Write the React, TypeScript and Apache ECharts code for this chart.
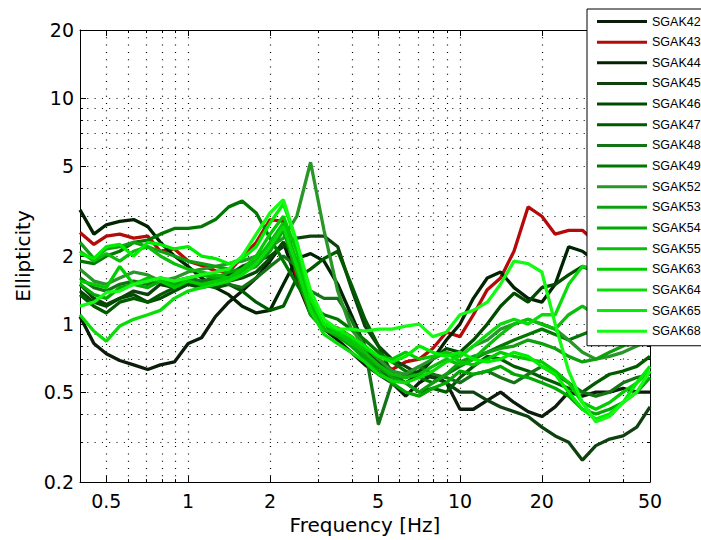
import React, { useEffect, useRef } from "react";
import * as echarts from "echarts";

// Frequency samples [Hz]
const frequencies = [
  0.4, 0.45, 0.5, 0.56, 0.63, 0.71, 0.79, 0.89, 1.0, 1.12,
  1.26, 1.41, 1.58, 1.78, 2.0, 2.24, 2.51, 2.82, 3.16, 3.55,
  3.98, 4.47, 5.01, 5.62, 6.31, 7.08, 7.94, 8.91, 10.0, 11.2,
  12.6, 14.1, 15.8, 17.8, 20.0, 22.4, 25.1, 28.2, 31.6, 35.5,
  39.8, 44.7, 50.0,
];

const seriesNames = [
  "SGAK42", "SGAK43", "SGAK44", "SGAK45", "SGAK46", "SGAK47", "SGAK48", "SGAK49",
  "SGAK52", "SGAK53", "SGAK54", "SGAK55", "SGAK63", "SGAK64", "SGAK65", "SGAK68",
];

const seriesColors = [
  "#0b1c0b", "#b40a0a", "#002300", "#0f410f", "#004b00", "#005a00", "#147314", "#007800",
  "#289628", "#0fa00f", "#00aa00", "#0abe0a", "#00cd00", "#0adc0a", "#00ee00", "#14fa14",
];

const sgak42 = [
  1.08, 0.82, 0.74, 0.69, 0.66, 0.63, 0.66, 0.68, 0.82, 0.87,
  1.08, 1.25, 1.4, 1.6, 1.9, 2.3, 1.55, 1.1, 0.95, 0.85,
  0.75, 0.66, 0.6, 0.55, 0.48, 0.55, 0.6, 0.55, 0.42, 0.42,
  0.46, 0.5, 0.45, 0.41, 0.39, 0.43, 0.5, 0.48, 0.5, 0.5,
  0.52, 0.5, 0.5,
];
const sgak43 = [
  2.54, 2.25, 2.45, 2.5, 2.4, 2.45, 2.1, 2.15, 1.9, 1.82,
  1.72, 1.7, 1.98, 2.3, 2.9, 2.85, 1.6, 1.12, 1.0, 0.96,
  0.88, 0.8, 0.7, 0.63, 0.68, 0.7, 0.78, 0.92, 0.88, 1.1,
  1.42, 1.6, 2.1, 3.3, 3.0, 2.5, 2.6, 2.6, 2.3, 2.1,
  1.9, 1.8, 1.7,
];
const sgak44 = [
  3.2, 2.5, 2.75, 2.85, 2.9, 2.7, 2.3, 2.0, 1.8, 1.6,
  1.45, 1.35, 1.2, 1.12, 1.15, 1.5, 1.95, 2.05, 1.9, 1.5,
  1.1, 0.8, 0.62, 0.58, 0.55, 0.6, 0.7, 0.85, 1.0, 1.3,
  1.6, 1.7, 1.45, 1.3, 1.25, 1.5, 2.2, 2.1, 1.9, 1.8,
  1.6, 1.4, 1.3,
];
const sgak45 = [
  1.5, 1.3, 1.22, 1.3, 1.4, 1.35, 1.5, 1.45, 1.55, 1.5,
  1.6, 1.65, 1.8, 1.9, 2.0, 2.2, 2.4, 2.45, 2.45, 2.2,
  1.45, 0.98, 0.8, 0.7, 0.65, 0.6, 0.58, 0.55, 0.5, 0.5,
  0.46, 0.43, 0.41, 0.39, 0.35, 0.32, 0.3, 0.25, 0.29, 0.31,
  0.32, 0.35, 0.43,
];
const sgak46 = [
  1.4, 1.25, 1.2, 1.3, 1.35, 1.25, 1.3, 1.4, 1.5, 1.45,
  1.5, 1.55, 1.6, 1.7, 1.95, 2.3, 1.9, 1.25, 1.0, 0.9,
  0.82, 0.75, 0.68, 0.6, 0.58, 0.62, 0.7, 0.78, 0.75, 0.85,
  1.0, 1.2, 1.37, 1.25, 1.45, 1.5, 1.65, 1.8, 1.7, 1.6,
  1.5, 1.3, 1.2,
];
const sgak47 = [
  1.35, 1.2, 1.12, 1.25, 1.3, 1.25, 1.35, 1.45, 1.55, 1.5,
  1.45, 1.5, 1.4, 1.25, 1.15, 1.2, 1.6, 1.75, 1.95, 2.1,
  1.5, 1.05, 0.8, 0.6, 0.55, 0.5, 0.52, 0.5, 0.58, 0.65,
  0.72, 0.7, 0.65, 0.62, 0.58, 0.55, 0.52, 0.5, 0.55, 0.6,
  0.62, 0.65, 0.72,
];
const sgak48 = [
  1.6, 1.45, 1.4, 1.5, 1.55, 1.5, 1.6, 1.55, 1.6, 1.55,
  1.6, 1.5, 1.45, 1.6, 1.8, 2.0, 1.8, 1.4, 1.3, 1.3,
  1.05, 0.78, 0.36, 0.55, 0.6, 0.65, 0.6, 0.58, 0.55, 0.6,
  0.62, 0.58, 0.55, 0.6, 0.65, 0.6, 0.55, 0.5, 0.48, 0.5,
  0.55, 0.58, 0.6,
];
const sgak49 = [
  1.9, 1.85, 2.0, 2.1, 2.3, 2.35, 2.5, 2.65, 2.65, 2.7,
  2.9, 3.3, 3.5, 3.1, 2.4, 1.9, 1.5, 1.2, 1.1, 1.05,
  0.95, 0.85, 0.75, 0.68, 0.62, 0.58, 0.55, 0.6, 0.65, 0.7,
  0.75, 0.8, 0.85, 0.9, 0.95, 0.9, 0.85, 0.9, 0.95, 1.0,
  1.05, 1.1, 1.0,
];
const sgak52 = [
  1.75, 1.55, 1.5, 1.6, 1.7, 1.65, 1.55, 1.6, 1.7, 1.75,
  1.8, 1.85, 1.9, 2.0, 2.2, 2.4, 3.0, 5.2, 2.6, 1.4,
  0.95, 0.8, 0.7, 0.62, 0.6, 0.65, 0.7, 0.75, 0.72, 0.8,
  0.85, 0.95, 1.0, 1.05, 1.0, 0.95, 0.85, 0.75, 0.7, 0.72,
  0.75, 0.8, 0.85,
];
const sgak53 = [
  2.3, 1.95, 2.15, 2.2, 2.3, 2.2, 2.1, 2.0, 1.9, 1.85,
  1.8, 1.75, 1.7, 1.8, 2.1, 2.6, 1.8, 1.15, 0.95, 0.9,
  0.8, 0.72, 0.65, 0.58, 0.55, 0.5, 0.55, 0.6, 0.68, 0.72,
  0.75, 0.78, 0.8, 0.85, 0.82, 0.78, 0.72, 0.68, 0.7, 0.75,
  0.8, 0.85, 0.9,
];
const sgak54 = [
  1.5, 1.35, 1.3, 1.45, 1.5, 1.45, 1.55, 1.5, 1.6, 1.65,
  1.6, 1.7, 1.75, 1.9, 2.2, 2.6, 1.7, 1.1, 0.95, 0.88,
  0.8, 0.7, 0.62, 0.55, 0.5, 0.48, 0.52, 0.55, 0.62, 0.6,
  0.62, 0.65, 0.6, 0.58, 0.55, 0.52, 0.48, 0.42, 0.4, 0.42,
  0.45, 0.5, 0.58,
];
const sgak55 = [
  2.1, 1.9, 2.05, 1.9, 2.1, 2.2, 2.0, 1.85, 1.75, 1.7,
  1.65, 1.6, 1.7, 1.9, 2.3, 2.8, 1.9, 1.2, 0.95, 0.9,
  0.82, 0.75, 0.66, 0.6, 0.58, 0.6, 0.65, 0.7, 0.66, 0.7,
  0.8, 0.9, 1.0, 1.05, 1.0, 0.95, 1.1, 1.2, 1.1, 1.0,
  0.98, 0.9, 0.88,
];
const sgak63 = [
  1.55, 1.5, 1.45, 1.8, 1.5, 1.6, 1.55, 1.45, 1.55, 1.5,
  1.55, 1.6, 1.75, 2.0, 2.5, 3.0, 2.1, 1.3, 1.0, 0.92,
  0.85, 0.78, 0.72, 0.7, 0.75, 0.7, 0.72, 0.75, 0.68, 0.66,
  0.7, 0.75, 0.72, 0.7, 0.68, 0.62, 0.55, 0.45, 0.42, 0.45,
  0.5, 0.55, 0.62,
];
const sgak64 = [
  1.1, 0.93, 0.84, 0.98, 1.05, 1.1, 1.15, 1.3, 1.4, 1.45,
  1.5, 1.55, 1.65, 1.85, 2.2, 2.7, 1.8, 1.15, 0.9, 0.82,
  0.75, 0.68, 0.6, 0.56, 0.55, 0.58, 0.62, 0.68, 0.72, 0.8,
  0.9, 1.0, 1.05, 1.0, 1.1, 1.1, 1.5, 1.8, 1.75, 1.6,
  1.4, 1.2, 1.0,
];
const sgak65 = [
  2.05, 1.95, 2.2, 2.25, 2.0, 2.3, 2.25, 2.15, 2.2, 2.0,
  1.95, 1.85, 1.95, 2.2, 2.8, 3.4, 2.3, 1.3, 1.0, 0.95,
  0.88, 0.8, 0.72, 0.68, 0.72, 0.8, 0.75, 0.72, 0.75, 0.7,
  0.68, 0.7, 0.75, 0.72, 0.65, 0.6, 0.5, 0.42, 0.38, 0.4,
  0.45, 0.55, 0.65,
];
const sgak68 = [
  1.2, 1.25, 1.38, 1.4, 1.5, 1.55, 1.6, 1.55, 1.6, 1.65,
  1.7, 1.75, 2.0, 2.5, 3.1, 3.55, 2.3, 1.4, 1.05, 0.95,
  0.95, 0.93, 0.95, 0.95, 0.98, 1.0, 0.88, 0.92, 1.1, 1.15,
  1.25, 1.5, 1.9, 1.85, 1.7, 1.0, 0.62, 0.45, 0.37, 0.39,
  0.45, 0.5, 0.62,
];

const seriesValues = [
  sgak42, sgak43, sgak44, sgak45, sgak46, sgak47, sgak48, sgak49,
  sgak52, sgak53, sgak54, sgak55, sgak63, sgak64, sgak65, sgak68,
];

// Axis ticks
const xTickLabels = [0.5, 1, 2, 5, 10, 20, 50];
const xGridValues = [0.5, 0.6, 0.7, 0.8, 0.9, 1, 2, 3, 4, 5, 6, 7, 8, 9, 10, 20, 30, 40];
const yTickLabels = [0.2, 0.5, 1, 2, 5, 10, 20];
const yGridValues = [0.3, 0.4, 0.5, 0.6, 0.7, 0.8, 0.9, 1, 2, 3, 4, 5, 6, 7, 8, 9, 10];
const xRange = [0.4, 50];
const yRange = [0.2, 20];

const FONT = "DejaVu Sans";
const lg = (v: number) => Math.log10(v);
const fmt = (v: number) => String(Math.round(Math.pow(10, v) * 100) / 100);

export default function App() {
  const ref = useRef<HTMLDivElement>(null);

  useEffect(() => {
    if (!ref.current) return;
    const chart = echarts.init(ref.current, undefined, { renderer: "svg" });

    const xMin = lg(xRange[0]);
    const xMax = lg(xRange[1]);
    const yMin = lg(yRange[0]);
    const yMax = lg(yRange[1]);
    const xMajor = xTickLabels.map(lg);
    const xAll = xGridValues.map(lg);
    const yMajor = yTickLabels.map(lg);
    const yAll = yGridValues.map(lg);

    const black = { color: "#000", width: 1 };
    const dotted = { color: "#000", width: 1.2, type: [1, 6.3] };
    const none = { show: false };

    const mkAxis = (
      position: string,
      min: number,
      max: number,
      ticks: number[],
      tickLen: number,
      showLine: boolean,
      labels: number[] | null,
      grid: boolean,
      extra: any = {}
    ) => ({
      type: "value",
      position,
      min,
      max,
      axisLine: { show: showLine, onZero: false, lineStyle: black },
      axisTick: { show: true, inside: true, length: tickLen, customValues: ticks, lineStyle: black },
      axisLabel: labels
        ? {
            show: true,
            customValues: labels,
            formatter: fmt,
            color: "#000",
            fontSize: 19,
            fontFamily: FONT,
            margin: position === "bottom" ? 9 : 6,
          }
        : none,
      splitLine: grid ? { show: true, lineStyle: dotted } : none,
      ...extra,
    });

    const nameStyle = { color: "#000", fontSize: 20, fontFamily: FONT };

    chart.setOption({
      animation: false,
      backgroundColor: "#fff",
      grid: { left: 80, right: 51, top: 30, bottom: 57, containLabel: false },
      legend: {
        data: seriesNames,
        orient: "vertical",
        left: 587,
        top: 9,
        padding: [6, 10, 8, 10],
        icon: "path://M0 0H50V3H0Z",
        itemWidth: 50,
        itemHeight: 14,
        itemGap: 7.65,
        itemStyle: { borderWidth: 0 },
        backgroundColor: "#fff",
        borderColor: "#000",
        borderWidth: 1,
        borderRadius: 0,
        selectedMode: false,
        textStyle: { color: "#000", fontSize: 12.5, fontFamily: "Liberation Sans" },
      },
      xAxis: [
        mkAxis("bottom", xMin, xMax, xMajor, 6, true, xMajor, false, {
          name: "Frequency [Hz]",
          nameLocation: "middle",
          nameGap: 29,
          nameTextStyle: nameStyle,
        }),
        mkAxis("bottom", xMin, xMax, xAll, 3, false, null, true),
        mkAxis("top", xMin, xMax, xMajor, 6, true, null, false),
        mkAxis("top", xMin, xMax, xAll, 3, false, null, false),
      ],
      yAxis: [
        mkAxis("left", yMin, yMax, yMajor, 6, true, yMajor, false, {
          name: "Ellipticity",
          nameLocation: "middle",
          nameGap: 45,
          nameTextStyle: nameStyle,
        }),
        mkAxis("left", yMin, yMax, yAll, 3, false, null, true),
        mkAxis("right", yMin, yMax, yMajor, 6, true, null, false),
        mkAxis("right", yMin, yMax, yAll, 3, false, null, false),
      ],
      series: seriesNames.map((name, i) => ({
        name,
        type: "line",
        xAxisIndex: 0,
        yAxisIndex: 0,
        symbol: "none",
        silent: true,
        color: seriesColors[i],
        lineStyle: { color: seriesColors[i], width: 3.3 },
        emphasis: { disabled: true },
        data: frequencies.map((f, j) => [lg(f), lg(seriesValues[i][j])]),
      })),
    });

    return () => chart.dispose();
  }, []);

  return (
    <div
      ref={ref}
      style={{ position: "fixed", left: 0, top: 0, width: 701, height: 540, background: "#fff" }}
    />
  );
}
